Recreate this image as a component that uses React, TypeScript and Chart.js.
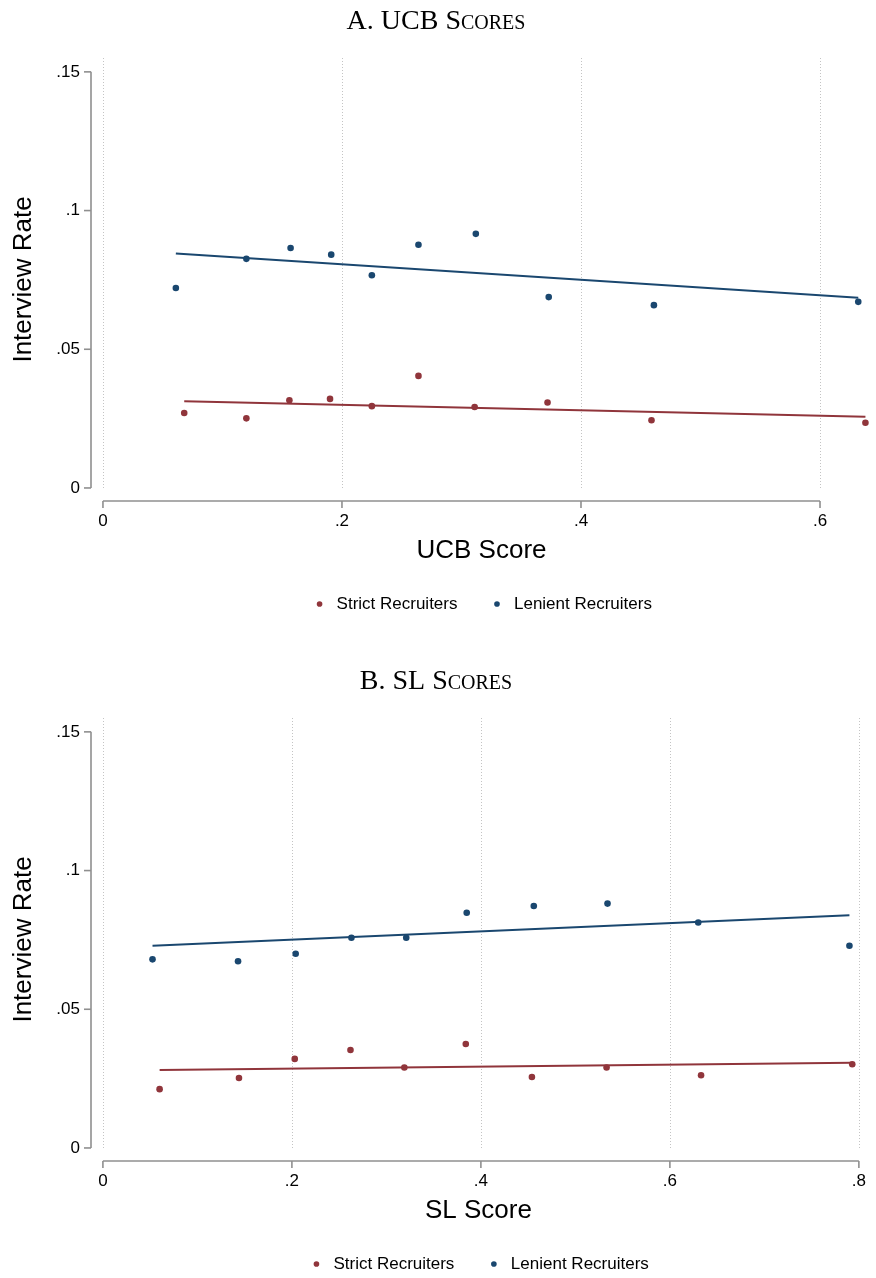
import React, { useEffect, useRef } from "react";
import { Chart, registerables } from "chart.js";

Chart.register(...registerables);

const RED = "#90353B";
const BLUE = "#1A476F";
const SANS = "'Liberation Sans', Arial, Helvetica, sans-serif";
const SERIF = "'Liberation Serif', 'DejaVu Serif', serif";

// ---- Panel A: UCB scores ----
const ucbStrictX = [0.068, 0.12, 0.156, 0.19, 0.225, 0.264, 0.311, 0.372, 0.459, 0.638];
const ucbStrictY = [0.027, 0.0251, 0.0316, 0.0321, 0.0295, 0.0404, 0.0292, 0.0308, 0.0244, 0.0235];
const ucbLenientX = [0.061, 0.12, 0.157, 0.191, 0.225, 0.264, 0.312, 0.373, 0.461, 0.632];
const ucbLenientY = [0.0721, 0.0826, 0.0865, 0.0841, 0.0767, 0.0877, 0.0916, 0.0688, 0.0659, 0.0671];
const ucbStrictFitX = [0.068, 0.638];
const ucbStrictFitY = [0.0313, 0.0257];
const ucbLenientFitX = [0.061, 0.632];
const ucbLenientFitY = [0.0845, 0.0686];
const ucbXTicks = [0, 0.2, 0.4, 0.6];
const ucbXRange = [-0.01, 0.6435];

// ---- Panel B: SL scores ----
const slStrictX = [0.06, 0.144, 0.203, 0.262, 0.319, 0.384, 0.454, 0.533, 0.633, 0.793];
const slStrictY = [0.0212, 0.0252, 0.0321, 0.0353, 0.029, 0.0375, 0.0256, 0.029, 0.0262, 0.0302];
const slLenientX = [0.0525, 0.143, 0.204, 0.263, 0.321, 0.385, 0.456, 0.534, 0.63, 0.79];
const slLenientY = [0.068, 0.0673, 0.07, 0.0758, 0.0758, 0.0848, 0.0872, 0.0881, 0.0813, 0.0729];
const slStrictFitX = [0.06, 0.793];
const slStrictFitY = [0.0281, 0.0307];
const slLenientFitX = [0.0525, 0.79];
const slLenientFitY = [0.0729, 0.0839];
const slXTicks = [0, 0.2, 0.4, 0.6, 0.8];
const slXRange = [-0.0126, 0.8073];

// ---- shared ----
const yTicks = [0, 0.05, 0.1, 0.15];
const yRange = [-0.0047, 0.155];
const legendLabels = ["Strict Recruiters", "Lenient Recruiters"];
const yLabel = "Interview Rate";

const fmt = (v: number) => (v === 0 ? "0" : String(+v.toFixed(3)).replace(/^0\./, "."));
const pts = (xs: number[], ys: number[]) => xs.map((x, i) => ({ x, y: ys[i] }));

const stataAxes = {
  id: "stataAxes",
  beforeDatasetsDraw(chart: any, _args: any, opts: any) {
    const { ctx, chartArea } = chart;
    const xs = chart.scales.x;
    const ys = chart.scales.y;
    const xt: number[] = opts.xTicks;
    const yt: number[] = opts.yTicks;
    ctx.save();
    // dotted vertical gridlines
    ctx.strokeStyle = "#c4c4c4";
    ctx.lineWidth = 1;
    ctx.setLineDash([1, 2]);
    const gBottom = ys.getPixelForValue(yt[0]) + 2;
    xt.forEach((v) => {
      const px = Math.round(xs.getPixelForValue(v)) + 0.5;
      ctx.beginPath();
      ctx.moveTo(px, chartArea.top);
      ctx.lineTo(px, gBottom);
      ctx.stroke();
    });
    ctx.setLineDash([]);
    ctx.strokeStyle = "#8f8f8f";
    ctx.lineWidth = 1.6;
    const L = chartArea.left;
    const B = chartArea.bottom;
    // y axis
    ctx.beginPath();
    ctx.moveTo(L, ys.getPixelForValue(yt[yt.length - 1]));
    ctx.lineTo(L, ys.getPixelForValue(yt[0]));
    ctx.stroke();
    yt.forEach((v) => {
      const py = ys.getPixelForValue(v);
      ctx.beginPath();
      ctx.moveTo(L - 7, py);
      ctx.lineTo(L, py);
      ctx.stroke();
    });
    // x axis
    ctx.beginPath();
    ctx.moveTo(xs.getPixelForValue(xt[0]), B);
    ctx.lineTo(xs.getPixelForValue(xt[xt.length - 1]), B);
    ctx.stroke();
    xt.forEach((v) => {
      const px = xs.getPixelForValue(v);
      ctx.beginPath();
      ctx.moveTo(px, B);
      ctx.lineTo(px, B + 7);
      ctx.stroke();
    });
    ctx.restore();
  },
};

type PanelProps = {
  top: number;
  title: string;
  xLabel: string;
  strictX: number[];
  strictY: number[];
  lenientX: number[];
  lenientY: number[];
  strictFitX: number[];
  strictFitY: number[];
  lenientFitX: number[];
  lenientFitY: number[];
  xTicks: number[];
  xRange: number[];
};

function Panel(p: PanelProps) {
  const ref = useRef<HTMLCanvasElement | null>(null);
  useEffect(() => {
    if (!ref.current) return;
    const chart = new Chart(ref.current, {
      type: "scatter",
      data: {
        datasets: [
          {
            label: legendLabels[0],
            data: pts(p.strictX, p.strictY),
            backgroundColor: RED,
            borderColor: RED,
            pointRadius: 3.3,
            pointBorderWidth: 0,
            order: 1,
          },
          {
            label: legendLabels[1],
            data: pts(p.lenientX, p.lenientY),
            backgroundColor: BLUE,
            borderColor: BLUE,
            pointRadius: 3.3,
            pointBorderWidth: 0,
            order: 1,
          },
          {
            label: "fit strict",
            data: pts(p.strictFitX, p.strictFitY),
            showLine: true,
            borderColor: RED,
            backgroundColor: RED,
            borderWidth: 2,
            pointRadius: 0,
            order: 2,
          },
          {
            label: "fit lenient",
            data: pts(p.lenientFitX, p.lenientFitY),
            showLine: true,
            borderColor: BLUE,
            backgroundColor: BLUE,
            borderWidth: 2,
            pointRadius: 0,
            order: 2,
          },
        ],
      } as any,
      options: {
        responsive: false,
        animation: false,
        layout: { padding: { left: 0, right: 4, top: 0, bottom: 17.5 } },
        plugins: {
          title: {
            display: true,
            text: p.title,
            color: "#000",
            font: { family: SERIF, size: 28, weight: "small-caps" as any, lineHeight: 1.2 },
            padding: { top: 5.2, bottom: 19.2 },
          },
          legend: {
            position: "bottom",
            fullSize: false,
            labels: {
              filter: (item: any) => item.datasetIndex < 2,
              usePointStyle: true,
              pointStyle: "circle",
              boxWidth: 17,
              boxHeight: 4,
              padding: 31,
              color: "#000",
              font: { family: SANS, size: 17 },
            },
          },
          tooltip: { enabled: false },
          stataAxes: { xTicks: p.xTicks, yTicks },
        } as any,
        scales: {
          x: {
            type: "linear",
            min: p.xRange[0],
            max: p.xRange[1],
            afterBuildTicks: (s: any) => {
              s.ticks = p.xTicks.map((v) => ({ value: v }));
            },
            afterFit: (s: any) => {
              s.height = 63.5;
            },
            grid: { display: false, drawTicks: false },
            border: { display: false },
            ticks: {
              padding: 10,
              color: "#000",
              autoSkip: false,
              maxRotation: 0,
              font: { family: SANS, size: 17 },
              callback: (v: any) => fmt(Number(v)),
            },
            title: {
              display: true,
              text: p.xLabel,
              color: "#000",
              font: { family: SANS, size: 26, lineHeight: 1 },
              padding: { top: 0, bottom: 0.5 },
            },
          },
          y: {
            type: "linear",
            min: yRange[0],
            max: yRange[1],
            afterBuildTicks: (s: any) => {
              s.ticks = yTicks.map((v) => ({ value: v }));
            },
            afterFit: (s: any) => {
              s.width = 91;
            },
            grid: { display: false, drawTicks: false },
            border: { display: false },
            ticks: {
              padding: 11,
              color: "#000",
              autoSkip: false,
              font: { family: SANS, size: 17 },
              callback: (v: any) => fmt(Number(v)),
            },
            title: {
              display: true,
              text: yLabel,
              color: "#000",
              font: { family: SANS, size: 26, lineHeight: 1.2 },
              padding: { top: 8, bottom: 0 },
            },
          },
        },
      } as any,
      plugins: [stataAxes],
    });
    return () => chart.destroy();
  }, []);
  return (
    <canvas
      ref={ref}
      width={876}
      height={640}
      style={{ position: "absolute", left: 0, top: p.top, width: 876, height: 640 }}
    />
  );
}

export default function App() {
  return (
    <div
      style={{
        position: "absolute",
        left: 0,
        top: 0,
        width: 876,
        height: 1278,
        overflow: "hidden",
        background: "#fff",
      }}
    >
      <Panel
        top={0}
        title="A. UCB Scores"
        xLabel="UCB Score"
        strictX={ucbStrictX}
        strictY={ucbStrictY}
        lenientX={ucbLenientX}
        lenientY={ucbLenientY}
        strictFitX={ucbStrictFitX}
        strictFitY={ucbStrictFitY}
        lenientFitX={ucbLenientFitX}
        lenientFitY={ucbLenientFitY}
        xTicks={ucbXTicks}
        xRange={ucbXRange}
      />
      <Panel
        top={660}
        title="B. SL Scores"
        xLabel="SL Score"
        strictX={slStrictX}
        strictY={slStrictY}
        lenientX={slLenientX}
        lenientY={slLenientY}
        strictFitX={slStrictFitX}
        strictFitY={slStrictFitY}
        lenientFitX={slLenientFitX}
        lenientFitY={slLenientFitY}
        xTicks={slXTicks}
        xRange={slXRange}
      />
    </div>
  );
}
